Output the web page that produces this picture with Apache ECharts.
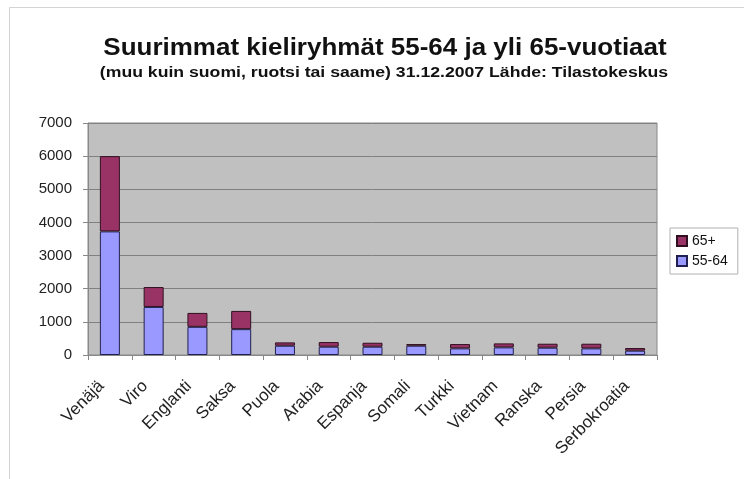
<!DOCTYPE html>
<html>
<head>
<meta charset="utf-8">
<script src="https://cdn.jsdelivr.net/npm/echarts@6/dist/echarts.min.js"></script>
<style>
  html, body { margin: 0; padding: 0; background: #fff; }
  #main { width: 744px; height: 479px; }
</style>
</head>
<body>
<div id="main"></div>
<script>
var languages = ['Venäjä', 'Viro', 'Englanti', 'Saksa', 'Puola', 'Arabia', 'Espanja',
    'Somali', 'Turkki', 'Vietnam', 'Ranska', 'Persia', 'Serbokroatia'];
var age55to64 = [3730, 1450, 850, 780, 280, 250, 250, 280, 200, 230, 220, 200, 130];
var age65plus = [2270, 600, 420, 550, 100, 140, 120, 50, 130, 120, 120, 140, 80];
var yTicks = [0, 1000, 2000, 3000, 4000, 5000, 6000, 7000];

var myChart = echarts.init(document.getElementById('main'));
var font = 'Liberation Sans, Arial, sans-serif';

var option = {
    backgroundColor: '#fff',
    animation: false,
    graphic: [{
        type: 'rect',
        shape: { x: 9.5, y: 7.5, width: 760, height: 500 },
        style: { fill: 'none', stroke: '#d4d4d4', lineWidth: 1 },
        silent: true
    }, {
        // title, a bit wider than the font like in the original picture
        type: 'text',
        x: 385, y: 49, scaleX: 1.13,
        style: {
            text: 'Suurimmat kieliryhmät 55-64 ja yli 65-vuotiaat',
            font: 'bold 23px ' + font, fill: '#111',
            align: 'center', verticalAlign: 'middle'
        }
    }, {
        type: 'text',
        x: 384, y: 73, scaleX: 1.26,
        style: {
            text: '(muu kuin suomi, ruotsi tai saame) 31.12.2007 Lähde: Tilastokeskus',
            font: 'bold 14px ' + font, fill: '#111',
            align: 'center', verticalAlign: 'middle'
        }
    }],
    legend: {
        orient: 'vertical',
        left: 670, top: 228,
        data: ['65+', '55-64'],
        itemWidth: 10, itemHeight: 10, itemGap: 6,
        icon: 'rect',
        padding: [6, 10, 6, 6],
        borderColor: '#b0b0b0', borderWidth: 1,
        textStyle: { fontFamily: font, fontSize: 14, color: '#111' }
    },
    grid: { left: 88, right: 87, top: 123, bottom: 124, show: true,
        backgroundColor: '#c0c0c0', borderColor: '#888', borderWidth: 1 },
    xAxis: {
        type: 'category',
        data: languages,
        axisLine: { lineStyle: { color: '#888' } },
        axisTick: { show: true, alignWithLabel: false, length: 5, lineStyle: { color: '#888' } },
        axisLabel: {
            rotate: 45, interval: 0, margin: 20, padding: [0, 12, 0, 0],
            fontFamily: font, fontSize: 17, color: '#222'
        }
    },
    yAxis: {
        type: 'value',
        min: yTicks[0], max: yTicks[yTicks.length - 1], interval: 1000,
        axisLine: { show: true, lineStyle: { color: '#888' } },
        axisTick: { show: true, length: 5, lineStyle: { color: '#888' } },
        splitLine: { lineStyle: { color: '#808080', width: 1 } },
        axisLabel: {
            margin: 16, fontFamily: font, fontSize: 15, color: '#222',
            formatter: function (v) { return String(v); }
        }
    },
    series: [{
        name: '55-64', type: 'bar', stack: 'total', barWidth: 20,
        itemStyle: { color: '#9999ff', borderColor: '#202050', borderWidth: 1 },
        data: age55to64
    }, {
        name: '65+', type: 'bar', stack: 'total', barWidth: 20,
        itemStyle: { color: '#993366', borderColor: '#301020', borderWidth: 1 },
        data: age65plus
    }]
};
myChart.setOption(option);
</script>
</body>
</html>
